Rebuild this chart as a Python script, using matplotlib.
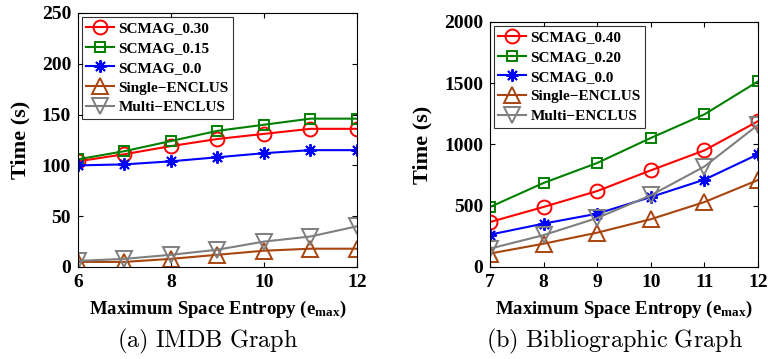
import matplotlib.pyplot as plt

# IMDB graph
x_imdb = [6, 7, 8, 9, 10, 11, 12]
imdb_030 = [104, 111, 119, 126, 131, 136, 136]
imdb_015 = [106, 114, 124, 134, 140, 146, 146]
imdb_00 = [100, 101, 104, 108, 112, 115, 115]
imdb_single = [5, 5, 8, 12, 16, 18, 18]
imdb_multi = [6, 8, 12, 17, 25, 30, 40]

# Bibliographic graph
x_bib = [7, 8, 9, 10, 11, 12]
bib_040 = [367, 490, 620, 789, 952, 1190]
bib_020 = [490, 686, 849, 1053, 1246, 1515]
bib_00 = [264, 354, 435, 571, 713, 920]
bib_single = [110, 190, 280, 390, 530, 710]
bib_multi = [150, 260, 400, 585, 820, 1160]

imdb_labels = ['SCMAG_0.30', 'SCMAG_0.15', 'SCMAG_0.0', 'Single\u2212ENCLUS', 'Multi\u2212ENCLUS']
bib_labels = ['SCMAG_0.40', 'SCMAG_0.20', 'SCMAG_0.0', 'Single\u2212ENCLUS', 'Multi\u2212ENCLUS']

colors = ['#ff0000', '#008000', '#0000ff', '#a8440e', '#7f7f7f']
markers = ['o', 's', (8, 2, 0), '^', 'v']
msizes = [10, 7.5, 9, 11, 11]

plt.rcParams['font.family'] = 'Liberation Serif'
plt.rcParams['font.weight'] = 'bold'
plt.rcParams['mathtext.fontset'] = 'custom'
plt.rcParams['mathtext.rm'] = 'Liberation Serif:bold'
plt.rcParams['mathtext.bf'] = 'Liberation Serif:bold'
plt.rcParams['mathtext.it'] = 'Liberation Serif:bold'

fig = plt.figure(figsize=(7.68, 3.59), dpi=100)
ax1 = fig.add_axes([0.1016, 0.2563, 0.363, 0.7075])
ax2 = fig.add_axes([0.638, 0.2563, 0.349, 0.6825])


def draw(ax, x, series, labels, ylim, yticks, xticks):
    for ys, lab, c, m, ms in zip(series, labels, colors, markers, msizes):
        ax.plot(x, ys, color=c, marker=m, ms=ms, lw=1.5, label=lab,
                markerfacecolor='none', markeredgecolor=c, markeredgewidth=1.4)
    ax.set_xlim(x[0], x[-1])
    ax.set_ylim(*ylim)
    ax.set_yticks(yticks)
    ax.set_xticks(xticks)
    ax.tick_params(direction='in', top=True, right=True, labelsize=14, pad=5)
    for lbl in ax.get_xticklabels() + ax.get_yticklabels():
        lbl.set_fontweight('bold')
    for s in ax.spines.values():
        s.set_linewidth(0.8)
    ax.set_ylabel('Time (s)', fontsize=16, fontweight='bold', labelpad=8)
    ax.set_xlabel(r'Maximum Space Entropy (e$_{\mathrm{max}}$)', fontsize=13.5,
                  fontweight='bold', labelpad=6)
    leg = ax.legend(loc='upper left', fontsize=11, frameon=True, fancybox=False,
                    borderaxespad=0.25, handlelength=1.8, labelspacing=0.4,
                    borderpad=0.3, handletextpad=0.3)
    leg.get_frame().set_edgecolor('black')
    leg.get_frame().set_linewidth(0.8)


draw(ax1, x_imdb, [imdb_030, imdb_015, imdb_00, imdb_single, imdb_multi],
     imdb_labels, (0, 250), [0, 50, 100, 150, 200, 250], [6, 8, 10, 12])
draw(ax2, x_bib, [bib_040, bib_020, bib_00, bib_single, bib_multi],
     bib_labels, (0, 2000), [0, 500, 1000, 1500, 2000], [7, 8, 9, 10, 11, 12])

fig.text(0.270, 0.033, r'$\mathrm{(a)\ IMDB\ Graph}$', ha='center', va='baseline',
         fontsize=17.5, math_fontfamily='cm')
fig.text(0.800, 0.033, r'$\mathrm{(b)\ Bibliographic\ Graph}$', ha='center', va='baseline',
         fontsize=17.5, math_fontfamily='cm')

fig.savefig('out.png', dpi=100)
